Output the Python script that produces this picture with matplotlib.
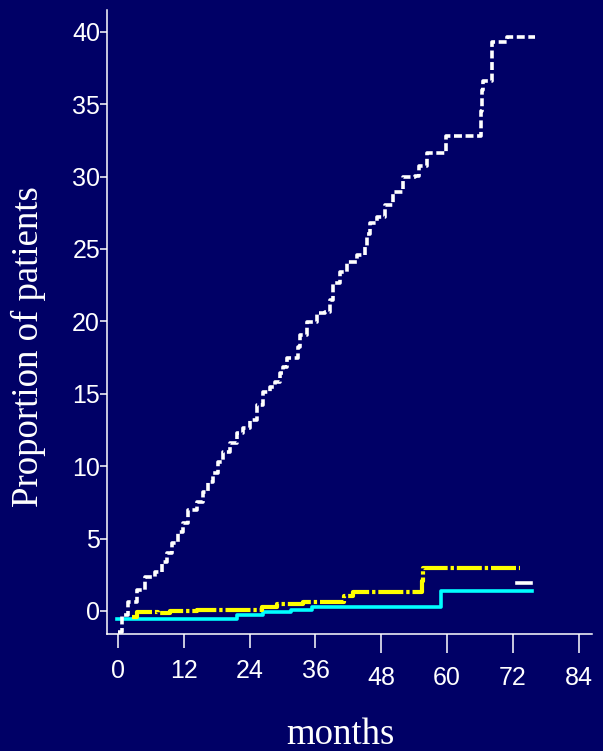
import matplotlib.pyplot as plt

BG = "#000066"

# white dashed curve (months, proportion of patients)
white_months = [0.0, 0.7, 1.8, 3.5, 4.9, 6.7, 8.0, 8.9, 9.8, 10.9, 11.8, 12.8, 14.4,
                15.5, 16.4, 17.3, 18.2, 19.1, 20.4, 21.7, 22.8, 24.0, 25.3, 26.4,
                27.7, 28.6, 29.5, 30.1, 30.8, 32.8, 33.2, 34.4, 36.3, 37.7, 38.6,
                39.2, 40.5, 41.7, 43.5, 45.0, 45.4, 45.9, 47.2, 48.6, 50.1, 51.9,
                54.1, 54.9, 56.3, 59.8, 66.1, 66.3, 66.5, 68.1, 71.0, 76.0]
white_prop = [-1.45, -0.3, 0.6, 1.45, 2.35, 2.7, 3.4, 4.0, 4.7, 5.45, 6.1, 7.0, 7.55,
              8.2, 8.9, 9.5, 10.3, 11.0, 11.6, 12.3, 12.65, 13.2, 14.2, 15.1,
              15.5, 15.8, 16.45, 16.85, 17.5, 18.25, 19.05, 19.95, 20.6, 20.65, 21.5,
              22.65, 23.4, 24.1, 24.6, 25.1, 26.0, 26.8, 27.2, 28.05, 28.9, 30.0,
              30.05, 30.7, 31.65, 32.8, 34.5, 36.0, 36.6, 39.3, 39.65, 39.65]

# short white piece near the end
white_tail_months = [72.8, 75.2]
white_tail_prop = [1.9, 1.9]

# yellow dash-dot curve
yellow_months = [2.6, 3.5, 7.3, 9.5, 14.4, 19.1, 24.1, 26.2, 29.0, 33.7, 38.6,
                 41.2, 42.8, 55.4, 55.6, 73.3]
yellow_prop = [-0.45, -0.1, -0.15, 0.0, 0.05, 0.05, 0.1, 0.25, 0.45, 0.6, 0.65,
               1.0, 1.3, 2.1, 3.0, 3.0]

# cyan solid curve
cyan_months = [-0.2, 21.7, 26.4, 31.6, 35.3, 58.9, 75.4]
cyan_prop = [-0.55, -0.3, -0.05, 0.1, 0.25, 1.35, 1.35]

y_ticks = [0, 5, 10, 15, 20, 25, 30, 35, 40]
x_ticks_upper = [0, 12, 24, 36]
x_ticks_lower = [48, 60, 72, 84]

plt.rcParams["font.family"] = ["Liberation Sans", "DejaVu Sans"]

fig = plt.figure(figsize=(6.03, 7.51), dpi=100, facecolor=BG)
ax = fig.add_axes([0.1774, 0.1558, 0.8043, 0.8309])
ax.set_facecolor(BG)

ax.step(cyan_months, cyan_prop, where="post", color="#00FFFF", lw=2.6)
ax.step(yellow_months, yellow_prop, where="post", color="#FFFF00", lw=3.0,
        dashes=(6, 0.7, 0.8, 0.7))
ax.step(white_months, white_prop, where="post", color="white", lw=2.6,
        dashes=(2.2, 1.0))
ax.plot(white_tail_months, white_tail_prop, color="white", lw=2.6)

ax.set_xlim(-2.0, 86.4)
ax.set_ylim(-1.59, 41.5)

for side in ["top", "right"]:
    ax.spines[side].set_visible(False)
for side in ["left", "bottom"]:
    ax.spines[side].set_color("white")
    ax.spines[side].set_linewidth(1.1)

ax.set_yticks(y_ticks)
ax.set_yticklabels([str(v) for v in y_ticks])
ax.tick_params(axis="y", colors="white", labelsize=18, length=5, width=1.1, pad=0)

ax.set_xticks(x_ticks_upper)
ax.set_xticklabels([str(v) for v in x_ticks_upper])
ax.set_xticks(x_ticks_lower, minor=True)
ax.set_xticklabels([str(v) for v in x_ticks_lower], minor=True)
ax.tick_params(axis="x", which="major", colors="white", labelsize=18,
               length=10, width=1.1, pad=8)
ax.tick_params(axis="x", which="minor", colors="white", labelsize=18,
               length=13.7, width=1.1, pad=9)

fig.text(0.0464, 0.539, "Proportion of patients", rotation=90, color="white",
         fontsize=26.5, family="Liberation Serif", ha="center", va="center")
fig.text(0.564, 0.0093, "months", color="white", fontsize=26.5,
         family="Liberation Serif", ha="center", va="baseline")

fig.savefig("out.png", dpi=100, facecolor=BG)
